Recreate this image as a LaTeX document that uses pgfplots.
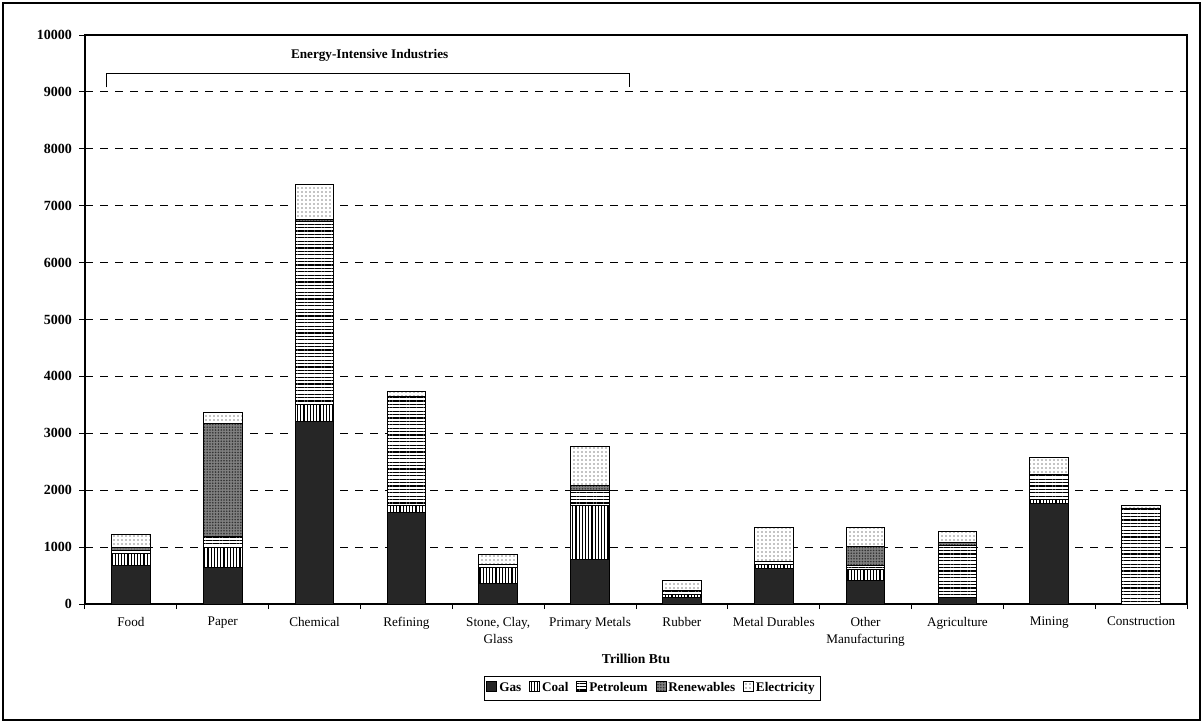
\documentclass[border=0pt]{standalone}
\usepackage{fontspec}
\setmainfont{Liberation Serif}
\usepackage{pgfplots}
\pgfplotsset{compat=1.18}
\usetikzlibrary{patterns,patterns.meta}
\begin{document}
\begin{tikzpicture}[x=1pt,y=1pt]
\useasboundingbox (-42.5,-60) rectangle (559,302);
\draw[line width=0.8pt] (-41,-58) rectangle (557.5,300.5);
\begin{axis}[
  at={(0,0)}, anchor=south west,
  scale only axis, width=551pt, height=284.5pt,
  ybar stacked, bar width=0.42,
  xmin=-0.5, xmax=11.5, ymin=0, ymax=10000,
  clip=false,
  axis line style={line width=0.6pt},
  xtick pos=bottom, ytick pos=left,
  xtick={0,...,11},
  xticklabels={Food,Paper,Chemical,Refining,{Stone, Clay,\\Glass},Primary Metals,Rubber,Metal Durables,{Other\\Manufacturing},Agriculture,Mining,Construction},
  x tick label style={font=\fontsize{6.6}{8.5}\selectfont, align=center, text depth=0pt},
  major x tick style={draw=none},
  minor xtick={-0.5,0.5,...,11.5},
  minor x tick style={black, line width=0.5pt},
  ytick={0,1000,...,10000},
  scaled y ticks=false,
  y tick label style={font=\bfseries\fontsize{7}{8}\selectfont, /pgf/number format/assume math mode=true, /pgf/number format/1000 sep={}},
  tick align=outside, major tick length=3pt, minor tick length=2.5pt,
  ytick style={black, line width=0.5pt},
  ymajorgrids, grid style={black, line width=0.5pt, dash pattern=on 4pt off 3.5pt},
  xlabel={Trillion Btu},
  xlabel style={font=\bfseries\fontsize{6.8}{8}\selectfont, at={(axis description cs:0.5,-0.097)}, anchor=center},
  legend columns=5,
  legend style={at={(axis description cs:0.515,-0.148)}, anchor=center, draw=black, line width=0.5pt, font=\bfseries\fontsize{6.6}{8}\selectfont, inner sep=1pt, /tikz/every even column/.append style={column sep=2pt}, /tikz/every odd column/.append style={column sep=-1pt}},
  area legend,
  legend image code/.code={\draw[#1, line width=0.4pt] (0pt,-1.8pt) rectangle (5pt,3.6pt);},
]
\addplot+[fill=black!85, draw=black, line width=0.5pt] coordinates {(0,680) (1,650) (2,3200) (3,1600) (4,360) (5,780) (6,110) (7,620) (8,410) (9,120) (10,1760) (11,0)};
\addplot+[fill=white, draw=black, line width=0.5pt, postaction={pattern={Lines[angle=90,distance=1.6pt,line width=0.55pt]}}] coordinates {(0,200) (1,350) (2,300) (3,130) (4,280) (5,960) (6,60) (7,80) (8,200) (9,0) (10,70) (11,0)};
\addplot+[fill=white, draw=black, line width=0.5pt, postaction={pattern={Lines[angle=0,distance=1.7pt,line width=0.6pt]}}] coordinates {(0,60) (1,180) (2,3230) (3,1910) (4,60) (5,250) (6,60) (7,40) (8,60) (9,900) (10,440) (11,1670)};
\addplot+[fill=black!50, draw=black, line width=0.5pt, postaction={pattern={Dots[distance=1.4pt,radius=0.45pt]}, pattern color=black!80}] coordinates {(0,60) (1,1990) (2,20) (3,0) (4,0) (5,100) (6,0) (7,0) (8,340) (9,60) (10,0) (11,0)};
\addplot+[fill=white, draw=black, line width=0.5pt, postaction={pattern={Dots[distance=2pt,radius=0.35pt,xshift=1pt]}}] coordinates {(0,230) (1,190) (2,620) (3,100) (4,170) (5,680) (6,190) (7,610) (8,330) (9,200) (10,300) (11,70)};
\legend{Gas,Coal,Petroleum,Renewables,Electricity}
\draw[line width=0.6pt] (axis cs:-0.27,9080) -- (axis cs:-0.27,9330) -- (axis cs:5.43,9330) -- (axis cs:5.43,9080);
\node[font=\bfseries\fontsize{6.6}{8}\selectfont] at (axis cs:2.6,9650) {Energy-Intensive Industries};
\end{axis}
\end{tikzpicture}
\end{document}
